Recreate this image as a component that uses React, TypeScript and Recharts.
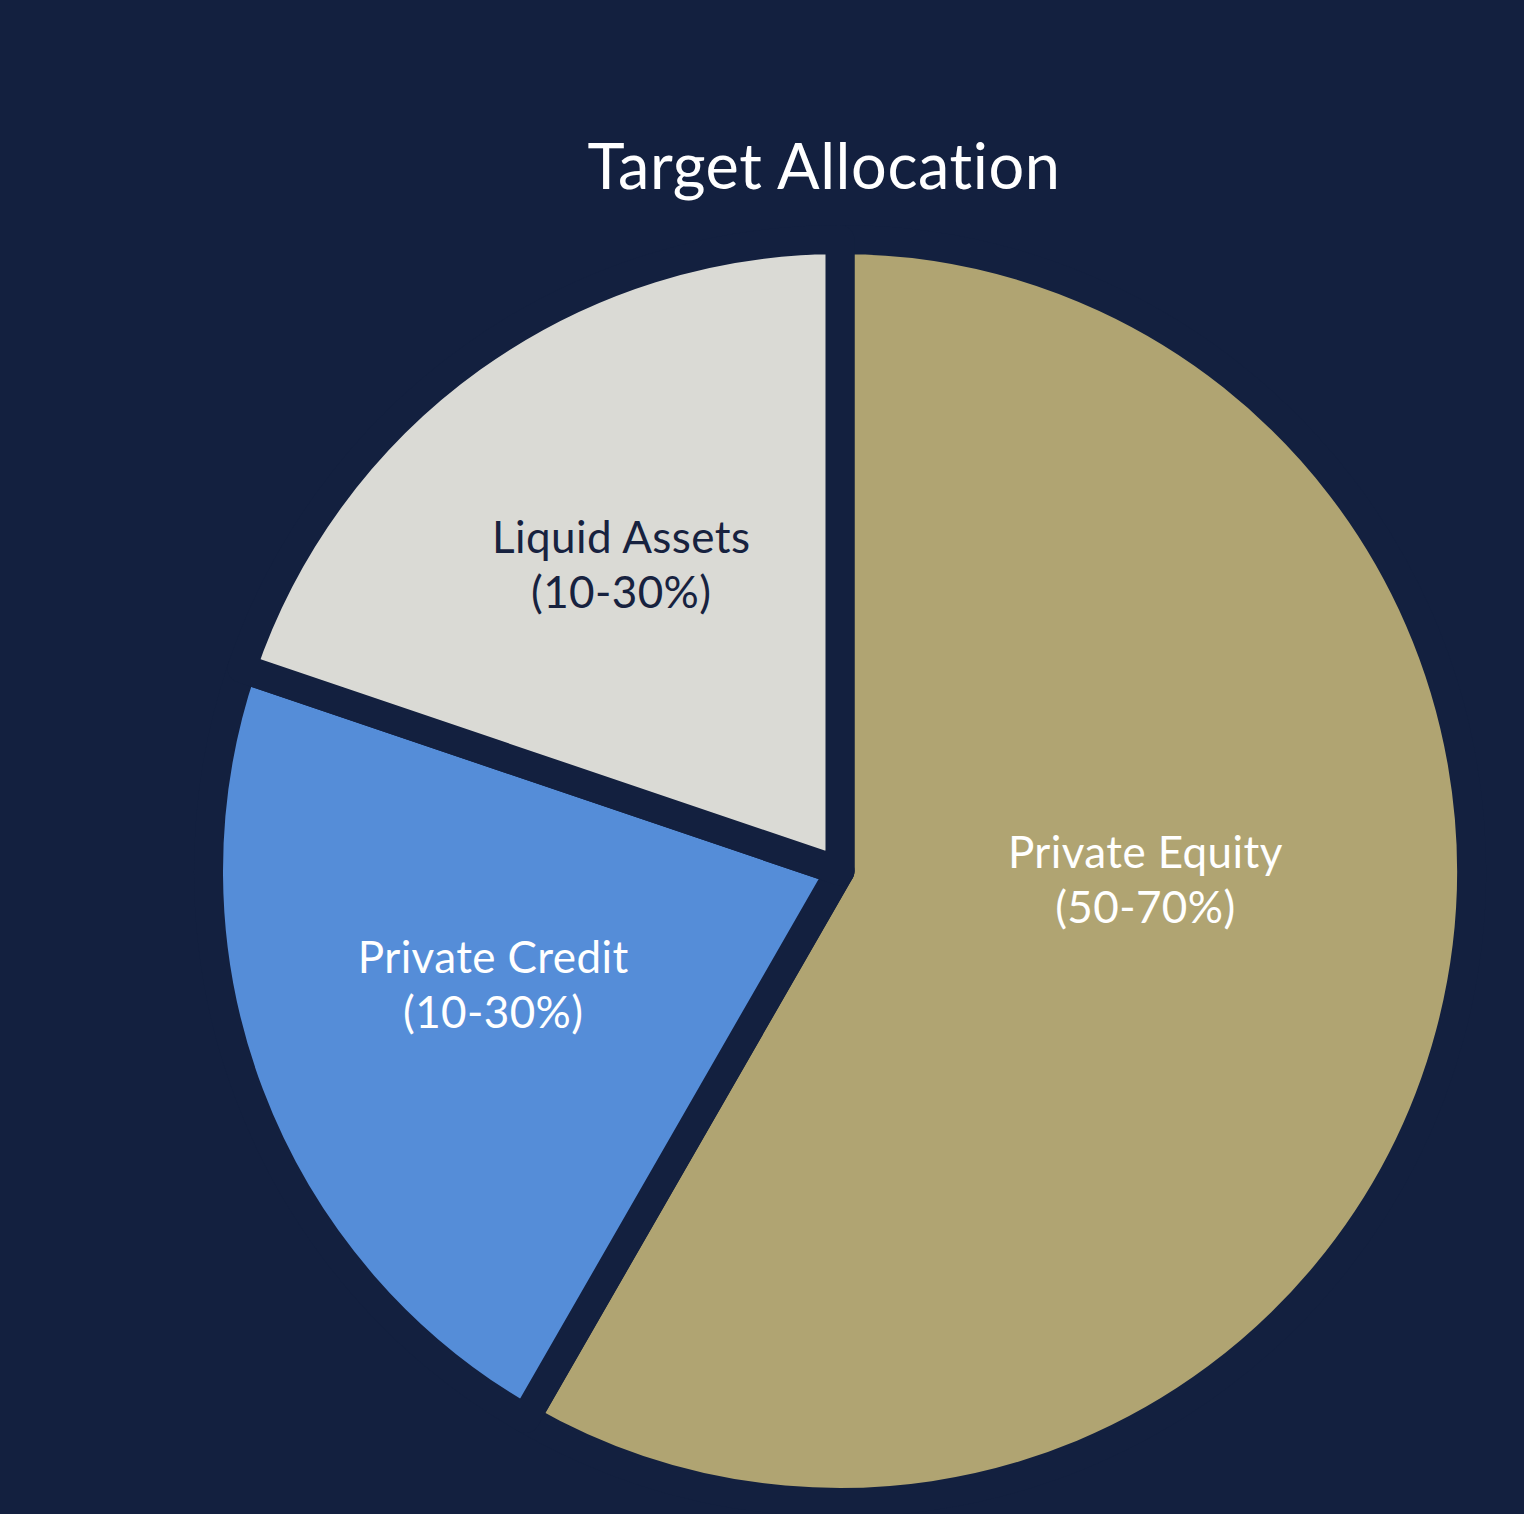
import React from 'react';
import { PieChart, Pie, Cell } from 'recharts';

const CATEGORIES = ['Private Equity', 'Private Credit', 'Liquid Assets'];
const RANGES = ['(50-70%)', '(10-30%)', '(10-30%)'];
const SHARES = [58.3, 21.9, 19.8];
const TITLE = 'Target Allocation';

const BG = '#13203F';
const COLORS = ['#B0A472', '#558DD8', '#DADAD5'];
const LABEL_COLORS = ['#FFFFFF', '#FFFFFF', '#17223F'];
// label placement relative to slice mid-angle (degrees) and radius fraction
const LABEL_ANGLE_SHIFT = [13.9, -3.0, -0.3];
const LABEL_RADIUS_FRAC = [0.495, 0.59, 0.613];

const data = CATEGORIES.map((name, i) => ({ name, range: RANGES[i], value: SHARES[i] }));

const GAP = 29;
const VISIBLE_R = 617;
const FONT = 'Lato, "Noto Sans", sans-serif';
const RAD = Math.PI / 180;

const renderLabel = (props: any) => {
  const { cx, cy, midAngle, index } = props;
  const ang = (midAngle + LABEL_ANGLE_SHIFT[index]) * RAD;
  const r = VISIBLE_R * LABEL_RADIUS_FRAC[index];
  const x = cx + r * Math.cos(-ang);
  const y = cy + r * Math.sin(-ang);
  return (
    <text
      key={`lbl-${index}`}
      textAnchor="middle"
      fill={LABEL_COLORS[index]}
      fontFamily={FONT}
      fontSize={44}
      letterSpacing={0.4}
      style={{ fontVariantLigatures: 'none' }}
    >
      <tspan x={x} y={y - 9}>{data[index].name}</tspan>
      <tspan x={x} y={y + 46}>{data[index].range}</tspan>
    </text>
  );
};

export default function App() {
  return (
    <div style={{ position: 'relative', width: 1524, height: 1514, background: BG, overflow: 'hidden' }}>
      <style>{'body{margin:0;background:' + BG + ';}'}</style>
      <div
        style={{
          position: 'absolute',
          left: 424,
          width: 800,
          top: 133,
          textAlign: 'center',
          color: '#FFFFFF',
          fontFamily: FONT,
          fontSize: 63,
          lineHeight: '63px',
          letterSpacing: 0.6,
          fontVariantLigatures: 'none',
          whiteSpace: 'nowrap',
        }}
      >
        {TITLE}
      </div>
      <div style={{ position: 'absolute', left: 0, top: 0 }}>
        <PieChart width={1524} height={1514} margin={{ top: 0, right: 0, bottom: 0, left: 0 }}>
          <Pie
            data={data}
            dataKey="value"
            nameKey="name"
            cx={840}
            cy={871}
            startAngle={90}
            endAngle={-270}
            innerRadius={0}
            outerRadius={VISIBLE_R + GAP / 2}
            stroke={BG}
            strokeWidth={GAP}
            strokeLinejoin="round"
            labelLine={false}
            label={renderLabel}
            isAnimationActive={false}
          >
            {data.map((d, i) => (
              <Cell key={d.name} fill={COLORS[i]} stroke={BG} strokeWidth={GAP} strokeLinejoin="round" />
            ))}
          </Pie>
        </PieChart>
      </div>
    </div>
  );
}
